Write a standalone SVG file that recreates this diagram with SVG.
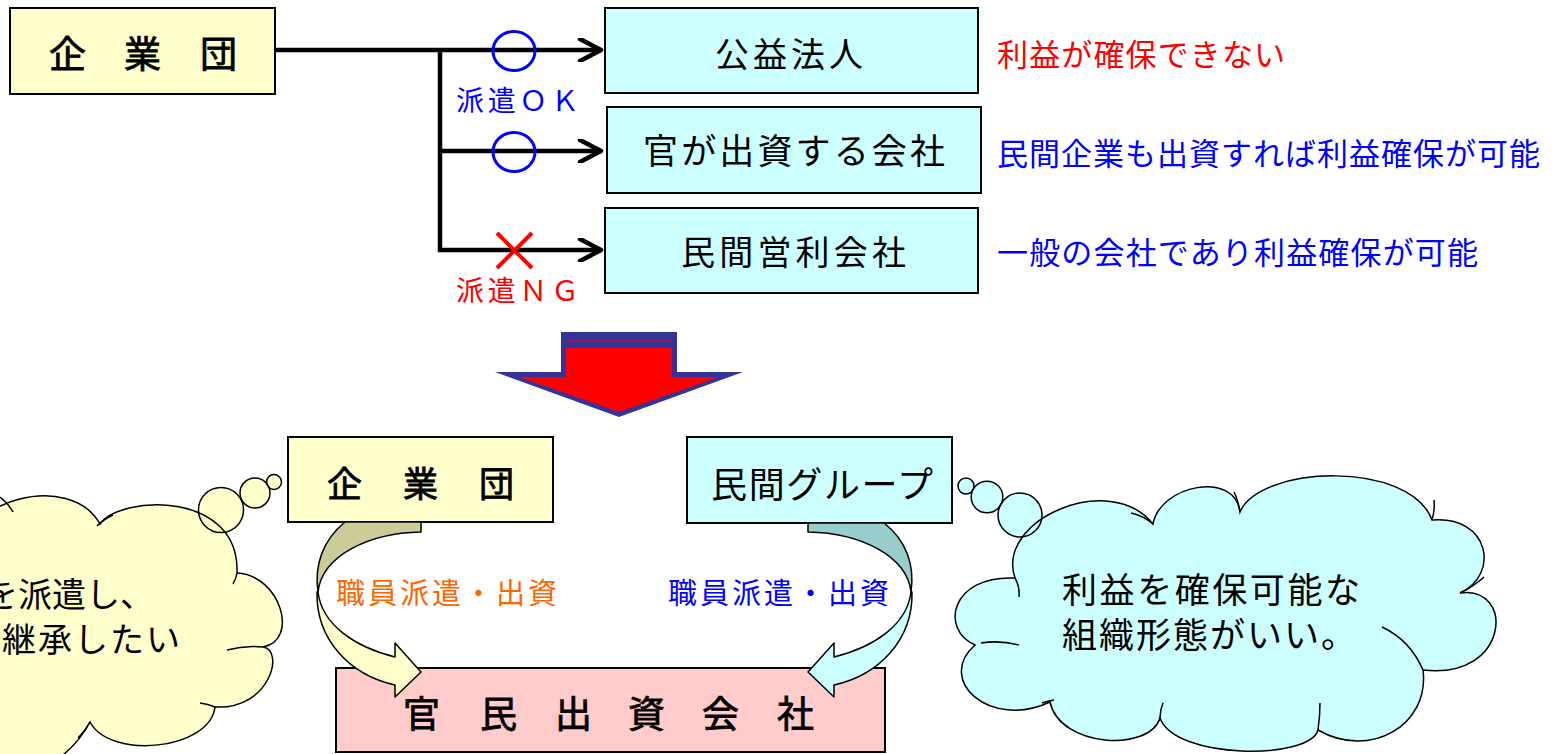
<svg xmlns="http://www.w3.org/2000/svg" width="1556" height="754" viewBox="0 0 1556 754">
<style>
text{font-family:"Liberation Sans","Noto Sans CJK JP",sans-serif;fill:#000;}
.bx{stroke:#000;stroke-width:2;}
.y{fill:#FFFFCC}.c{fill:#CCFFFF}.p{fill:#FFCCCC}
.ln{fill:none;stroke:#000;stroke-width:4.5;stroke-linejoin:miter}
.ol{stroke:#000;stroke-width:1.5;stroke-linejoin:round}
.cr{fill:none;stroke:#000;stroke-width:1.5}
.red{fill:#FF0000}.blue{fill:#0000FF}.org{fill:#FF6600}
.hv{stroke:#000;stroke-width:0.8}
</style>
<defs>
<marker id="ah" markerUnits="userSpaceOnUse" markerWidth="30" markerHeight="24" viewBox="0 0 30 24" refX="24" refY="12" orient="auto">
<path d="M3,1 L24,12 L3,23" fill="none" stroke="#000" stroke-width="4.5" stroke-linecap="round" stroke-linejoin="round"/>
</marker>
</defs>
<rect width="1556" height="754" fill="#FFFFFF"/>

<!-- left cloud (thought of 企業団) -->
<g id="cloud-left">
<path fill="#FFFFCC" d="M-40,560 C-40,500 70,470 100,524 C120,495 240,490 237,573 C280,575 300,640 263,647 C285,650 270,710 215,707 C210,750 110,760 90,722 C70,760 20,790 -30,790 L-60,790 L-60,560 Z"/>
<circle cx="221" cy="510" r="22.5" fill="#FFFFCC"/>
<circle cx="255" cy="493" r="15" fill="#FFFFCC"/>
<circle cx="274" cy="482" r="7.5" fill="#FFFFCC"/>
<path class="cr" d="M-40,560 C-40,500 70,470 100,524 C120,495 240,490 237,573 C280,575 300,640 263,647 C285,650 270,710 215,707 C210,750 110,760 90,722 C70,760 20,790 -30,790"/>
<path class="cr" d="M0,497 Q8,503 13,512 M97,526 Q104,519 113,515 M237,573 Q236,579 233,584 M227,650 Q245,645 263,647 M200,703 Q208,704 215,707 M90,722 Q85,731 78,738"/>
<circle cx="221" cy="510" r="22.5" class="cr"/>
<circle cx="255" cy="493" r="15" class="cr"/>
<circle cx="274" cy="482" r="7.5" class="cr"/>
<text x="-16" y="607" font-size="34" letter-spacing="0">を派遣し、</text>
<text x="2" y="652" font-size="34" letter-spacing="2">継承したい</text>
</g>

<!-- right cloud (thought of 民間グループ) -->
<g id="cloud-right">
<path fill="#CCFFFF" d="M1015,578 C995,520 1110,470 1153,524 C1160,485 1235,470 1240,512 C1260,465 1410,460 1432,520 C1490,515 1500,575 1460,593 C1515,585 1510,680 1423,670 C1430,725 1370,760 1318,730 C1310,760 1175,760 1160,718 C1150,752 1060,748 1050,702 C990,730 935,680 975,645 C940,630 950,575 1015,578 Z"/>
<circle cx="966" cy="486" r="8" fill="#CCFFFF"/>
<circle cx="987" cy="497" r="15.8" fill="#CCFFFF"/>
<circle cx="1020" cy="515" r="22" fill="#CCFFFF"/>
<path class="cr" d="M1015,578 C995,520 1110,470 1153,524 C1160,485 1235,470 1240,512 C1260,465 1410,460 1432,520 C1490,515 1500,575 1460,593 C1515,585 1510,680 1423,670 C1430,725 1370,760 1318,730 C1310,760 1175,760 1160,718 C1150,752 1060,748 1050,702 C990,730 935,680 975,645 C940,630 950,575 1015,578 Z"/>
<path class="cr" d="M1015,578 Q1020,587 1019,597 M1131,513 Q1144,516 1153,524 M1240,512 Q1238,500 1234,492 M1432,520 Q1435,510 1434,500 M1460,593 Q1473,587 1484,577 M1382,627 Q1410,640 1423,670 M1318,730 Q1320,716 1320,703 M1160,718 Q1160,710 1163,703 M1042,703 Q1048,701 1054,700 M981,643 Q1000,640 1019,645"/>
<circle cx="966" cy="486" r="8" class="cr"/>
<circle cx="987" cy="497" r="15.8" class="cr"/>
<circle cx="1020" cy="515" r="22" class="cr"/>
<text x="1062" y="603" font-size="35" textLength="298" lengthAdjust="spacing">利益を確保可能な</text>
<text x="1062" y="648" font-size="35" letter-spacing="2">組織形態がいい。</text>
</g>

<!-- top nodes -->
<g id="kigyodan-top">
<rect class="bx y" x="10" y="8" width="265" height="86"/>
<text class="hv" x="49 124 200" y="68" font-size="37">企業団</text>
</g>
<g id="koeki-hojin">
<rect class="bx c" x="605" y="8" width="373" height="85"/>
<text x="715" y="67" font-size="34" textLength="148" lengthAdjust="spacing">公益法人</text>
</g>
<g id="kan-shusshi">
<rect class="bx c" x="607" y="107" width="374" height="86"/>
<text x="643" y="164" font-size="35" textLength="302" lengthAdjust="spacing">官が出資する会社</text>
</g>
<g id="minkan-eiri">
<rect class="bx c" x="605" y="208" width="373" height="85"/>
<text x="681" y="265" font-size="34" textLength="225" lengthAdjust="spacing">民間営利会社</text>
</g>

<!-- notes -->
<g id="notes">
<text class="red" x="997" y="66" font-size="31" textLength="288" lengthAdjust="spacing">利益が確保できない</text>
<text class="blue" x="997" y="165" font-size="31" textLength="543" lengthAdjust="spacing">民間企業も出資すれば利益確保が可能</text>
<text class="blue" x="997" y="264" font-size="31" textLength="481" lengthAdjust="spacing">一般の会社であり利益確保が可能</text>
</g>

<!-- transition arrow -->
<g id="transition-arrow">
<polygon fill="#333399" points="561,332 677,332 677,372 743,372 619,417 495,372 561,372"/>
<polygon fill="#FF0000" points="566,348 672,348 672,377 719,377 619,412 519,377 566,377"/>
<line x1="566" y1="341" x2="672" y2="341" stroke="#FF0000" stroke-width="1"/>
</g>

<!-- bottom nodes -->
<g id="kigyodan-bottom">
<rect class="bx y" x="288" y="437" width="265" height="85"/>
<text class="hv" x="327 403 479" y="497" font-size="35">企業団</text>
</g>
<g id="minkan-group">
<rect class="bx c" x="687" y="437" width="265" height="86"/>
<text x="711" y="498" font-size="36" textLength="222" lengthAdjust="spacing">民間グループ</text>
</g>
<g id="kanmin-shusshi">
<rect class="bx p" x="336" y="668" width="549" height="84"/>
<text class="hv" x="403 480 555 628 702 777" y="728" font-size="37">官民出資会社</text>
</g>

<!-- connectors -->
<g id="connectors">
<path class="ln" d="M275,50 H601" marker-end="url(#ah)"/>
<path class="ln" d="M440,50 V250 H601" marker-end="url(#ah)"/>
<path class="ln" d="M440,151 H601" marker-end="url(#ah)"/>
<ellipse cx="514" cy="51" rx="21" ry="19.5" fill="none" stroke="#0000FF" stroke-width="3"/>
<ellipse cx="514" cy="152" rx="21" ry="19.5" fill="none" stroke="#0000FF" stroke-width="3"/>
<path d="M497,233 L532,268 M532,233 L497,268" stroke="#FF0000" stroke-width="4" fill="none"/>
<text class="blue" x="456" y="111" font-size="28" textLength="123" lengthAdjust="spacing">派遣ＯＫ</text>
<text class="red" x="456" y="301" font-size="28" textLength="123" lengthAdjust="spacing">派遣ＮＧ</text>

<g id="flow-left">
<path class="ol" fill="#CCCC99" d="M345,522 L421,522 L421,532 C368,533 322,556 318,592 C314,565 323,540 345,522 Z"/>
<path class="ol" fill="#FFFFCC" d="M317,592 C316,640 350,675 395,685 L395,697 L421,672 L395,643 L395,657 C355,647 322,625 318,592 Z"/>
</g>
<g id="flow-right" transform="matrix(-1 0 0 1 1229 0)">
<path class="ol" fill="#99CCCC" d="M345,523 L421,523 L421,532 C368,533 322,556 318,592 C314,565 323,540 345,523 Z"/>
<path class="ol" fill="#CCFFFF" d="M317,592 C316,640 350,675 395,685 L395,697 L421,672 L395,643 L395,657 C355,647 322,625 318,592 Z"/>
</g>
<text class="org" x="336" y="604" font-size="29" textLength="221" lengthAdjust="spacing">職員派遣・出資</text>
<text class="blue" x="668" y="604" font-size="29" textLength="221" lengthAdjust="spacing">職員派遣・出資</text>
</g>
</svg>
